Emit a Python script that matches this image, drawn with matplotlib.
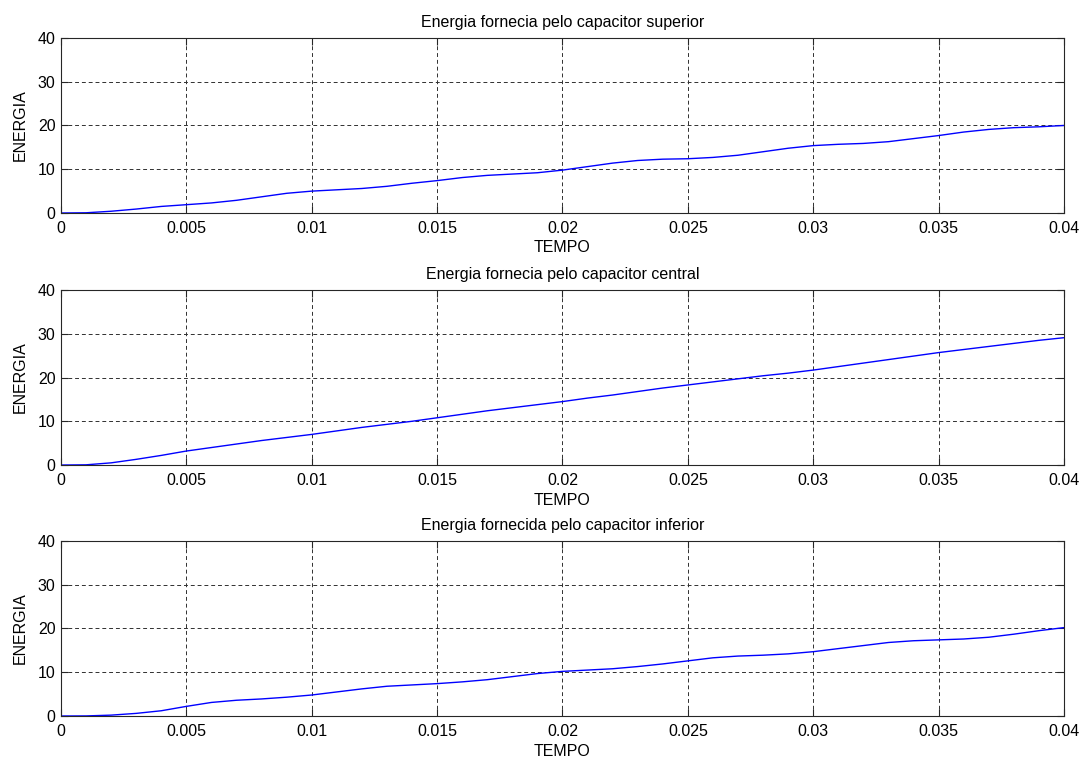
import numpy as np
import matplotlib.pyplot as plt

# --- Dados ---
tempo = np.arange(0, 41) * 0.001

energia_superior = [0, 0.05, 0.4, 0.9, 1.5, 1.9, 2.3, 2.9, 3.7, 4.5,
                    5.0, 5.3, 5.6, 6.1, 6.8, 7.4, 8.1, 8.6, 8.9, 9.2,
                    9.8, 10.6, 11.4, 12.0, 12.3, 12.4, 12.7, 13.2, 14.0, 14.8,
                    15.4, 15.7, 15.9, 16.3, 17.0, 17.7, 18.5, 19.1, 19.5, 19.7,
                    20.0]

energia_central = [0, 0.05, 0.5, 1.3, 2.2, 3.2, 4.0, 4.8, 5.6, 6.3,
                   7.0, 7.8, 8.6, 9.3, 10.0, 10.8, 11.6, 12.4, 13.1, 13.8,
                   14.5, 15.3, 16.0, 16.8, 17.6, 18.3, 19.0, 19.7, 20.4, 21.0,
                   21.7, 22.5, 23.3, 24.1, 24.9, 25.7, 26.4, 27.1, 27.8, 28.5,
                   29.1]

energia_inferior = [0, 0.02, 0.2, 0.6, 1.2, 2.2, 3.1, 3.6, 3.9, 4.3,
                    4.8, 5.5, 6.2, 6.8, 7.1, 7.4, 7.8, 8.3, 9.0, 9.7,
                    10.2, 10.5, 10.8, 11.3, 11.9, 12.6, 13.3, 13.7, 13.9, 14.2,
                    14.7, 15.4, 16.1, 16.8, 17.2, 17.4, 17.6, 18.0, 18.7, 19.5,
                    20.2]

titulos = ["Energia fornecia pelo capacitor superior",
           "Energia fornecia pelo capacitor central",
           "Energia fornecida pelo capacitor inferior"]

xticks = [0, 0.005, 0.01, 0.015, 0.02, 0.025, 0.03, 0.035, 0.04]
xtick_labels = ["0", "0.005", "0.01", "0.015", "0.02", "0.025", "0.03", "0.035", "0.04"]
yticks = [0, 10, 20, 30, 40]

plt.rcParams['font.family'] = ['Liberation Sans', 'DejaVu Sans']
plt.rcParams['font.size'] = 11.5

fig = plt.figure(figsize=(10.85, 7.58), dpi=100)
fig.patch.set_facecolor('white')

# posições dos eixos (estilo MATLAB subplot)
bottoms = [0.719, 0.3865, 0.0554]
series = [energia_superior, energia_central, energia_inferior]

for b, serie, titulo in zip(bottoms, series, titulos):
    ax = fig.add_axes([0.0562, b, 0.9244, 0.2309])
    ax.plot(tempo, serie, color='#0000ff', linewidth=1.0)
    ax.set_xlim(0, 0.04)
    ax.set_ylim(0, 40)
    ax.set_xticks(xticks)
    ax.set_xticklabels(xtick_labels)
    ax.set_yticks(yticks)
    ax.grid(True, color='#303030', linestyle=(0, (4, 3)), linewidth=0.7)
    ax.tick_params(direction='in', top=True, right=True, length=5, width=0.8,
                   pad=4, colors='#262626', labelcolor='black')
    ax.tick_params(axis='x', pad=6)
    for s in ax.spines.values():
        s.set_linewidth(0.8)
        s.set_color('#262626')
    ax.set_title(titulo, fontsize=11.5, pad=8)
    ax.set_xlabel("TEMPO", fontsize=11.5, labelpad=3)
    ax.set_ylabel("ENERGIA", fontsize=11.5, labelpad=7)

fig.savefig("out.png", dpi=100, facecolor='white')
